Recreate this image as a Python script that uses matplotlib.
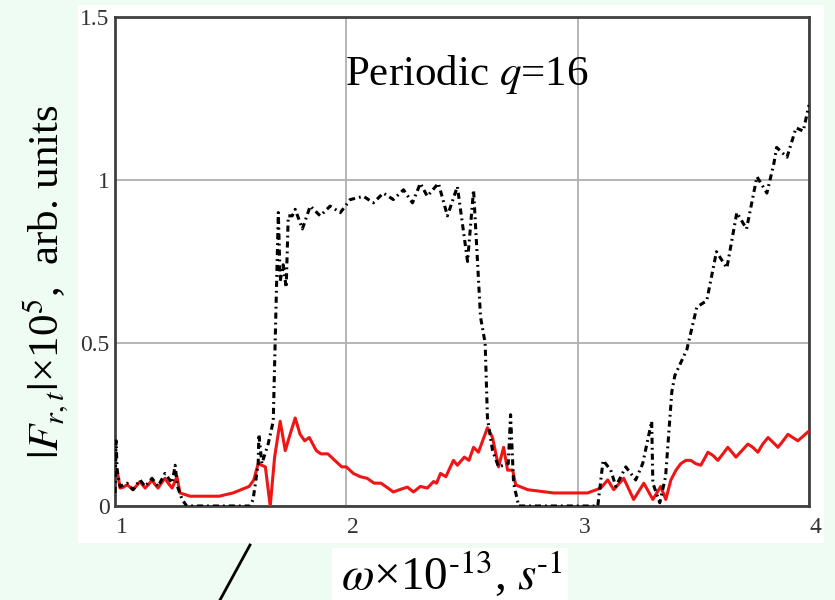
import matplotlib
matplotlib.use("Agg")
import matplotlib.pyplot as plt
import matplotlib.transforms as mtransforms
from matplotlib.patches import Rectangle
from matplotlib.lines import Line2D

plt.rcParams["font.family"] = ["Liberation Serif", "DejaVu Serif"]
plt.rcParams["mathtext.fontset"] = "stix"

# |F_t| (black dash-dot)
black_x = [1.000, 1.005, 1.009, 1.022, 1.052, 1.078, 1.108, 1.130, 1.160, 1.186,
           1.216, 1.247, 1.260, 1.270, 1.290, 1.310, 1.584, 1.597, 1.619, 1.622,
           1.635, 1.662, 1.684, 1.706, 1.714, 1.727, 1.740, 1.749, 1.766, 1.779,
           1.810, 1.844, 1.887, 1.930, 1.974, 2.017, 2.074, 2.117, 2.160, 2.203,
           2.247, 2.286, 2.320, 2.350, 2.398, 2.437, 2.480, 2.524, 2.550, 2.567,
           2.580, 2.600, 2.610, 2.632, 2.658, 2.700, 2.710, 2.723, 2.745, 3.087,
           3.110, 3.143, 3.165, 3.208, 3.251, 3.281, 3.320, 3.325, 3.355, 3.380,
           3.407, 3.420, 3.472, 3.515, 3.558, 3.600, 3.645, 3.688, 3.730, 3.775,
           3.818, 3.848, 3.860, 3.905, 3.944, 3.975, 4.000]
black_y = [0.04, 0.20, 0.11, 0.06, 0.07, 0.05, 0.08, 0.06, 0.085, 0.06,
           0.10, 0.07, 0.125, 0.06, 0.02, 0.00, 0.00, 0.02, 0.13, 0.22,
           0.13, 0.19, 0.26, 0.90, 0.69, 0.74, 0.67, 0.89, 0.89, 0.91,
           0.85, 0.92, 0.89, 0.92, 0.90, 0.94, 0.95, 0.93, 0.96, 0.94,
           0.97, 0.93, 0.99, 0.95, 0.99, 0.89, 0.98, 0.75, 0.97, 0.75,
           0.58, 0.50, 0.27, 0.17, 0.12, 0.13, 0.28, 0.07, 0.00, 0.00,
           0.14, 0.11, 0.06, 0.12, 0.08, 0.13, 0.26, 0.07, 0.01, 0.09,
           0.35, 0.40, 0.48, 0.61, 0.63, 0.78, 0.73, 0.90, 0.85, 1.01,
           0.96, 1.05, 1.10, 1.07, 1.16, 1.15, 1.23]

# |F_r| (red solid)
red_x = [1.000, 1.009, 1.022, 1.037, 1.052, 1.065, 1.078, 1.093, 1.108, 1.120,
         1.130, 1.145, 1.160, 1.173, 1.186, 1.200, 1.216, 1.232, 1.247, 1.268,
         1.281, 1.325, 1.450, 1.510, 1.580, 1.600, 1.619, 1.650, 1.671, 1.690,
         1.714, 1.736, 1.757, 1.779, 1.800, 1.820, 1.840, 1.870, 1.890, 1.920,
         1.950, 1.980, 2.000, 2.030, 2.060, 2.090, 2.120, 2.150, 2.180, 2.203,
         2.230, 2.264, 2.290, 2.320, 2.350, 2.377, 2.390, 2.407, 2.430, 2.463,
         2.480, 2.510, 2.530, 2.550, 2.571, 2.610, 2.632, 2.658, 2.680, 2.697,
         2.719, 2.732, 2.784, 2.896, 3.043, 3.100, 3.130, 3.156, 3.199, 3.242,
         3.286, 3.325, 3.359, 3.381, 3.403, 3.425, 3.446, 3.468, 3.489, 3.510,
         3.532, 3.548, 3.563, 3.585, 3.606, 3.628, 3.649, 3.667, 3.684, 3.710,
         3.736, 3.757, 3.779, 3.800, 3.823, 3.845, 3.866, 3.888, 3.909, 3.930,
         3.952, 3.976, 4.000]
red_y = [0.10, 0.11, 0.055, 0.058, 0.065, 0.058, 0.05, 0.062, 0.075, 0.064,
         0.055, 0.066, 0.08, 0.066, 0.055, 0.07, 0.085, 0.068, 0.055, 0.09,
         0.04, 0.03, 0.03, 0.04, 0.06, 0.08, 0.13, 0.12, 0.00, 0.15,
         0.26, 0.17, 0.22, 0.27, 0.22, 0.20, 0.21, 0.17, 0.16, 0.16,
         0.14, 0.12, 0.12, 0.10, 0.09, 0.085, 0.07, 0.07, 0.055, 0.043,
         0.05, 0.058, 0.043, 0.06, 0.055, 0.075, 0.07, 0.10, 0.09, 0.14,
         0.125, 0.15, 0.14, 0.18, 0.165, 0.24, 0.21, 0.12, 0.18, 0.11,
         0.11, 0.065, 0.05, 0.04, 0.04, 0.055, 0.08, 0.05, 0.085, 0.02,
         0.07, 0.02, 0.06, 0.02, 0.08, 0.11, 0.13, 0.14, 0.14, 0.13,
         0.125, 0.145, 0.165, 0.155, 0.14, 0.16, 0.18, 0.165, 0.15, 0.17,
         0.19, 0.18, 0.165, 0.19, 0.21, 0.195, 0.18, 0.20, 0.22, 0.21,
         0.20, 0.215, 0.23]

x_ticks = [1, 2, 3, 4]
x_labels = ["1", "2", "3", "4"]
y_ticks = [0, 0.5, 1, 1.5]
y_labels = ["0", "0.5", "1", "1.5"]

W, H = 835, 600
fig = plt.figure(figsize=(W / 100, H / 100), dpi=100, facecolor="#effcf3")

# white panel behind the chart and under the x label
fig.add_artist(Rectangle((78 / W, 1 - 543 / H), (824 - 78) / W, (543 - 5) / H,
                         transform=fig.transFigure, facecolor="white",
                         edgecolor="none", zorder=-1))
fig.add_artist(Rectangle((332 / W, 0), (568 - 332) / W, (600 - 548) / H,
                         transform=fig.transFigure, facecolor="white",
                         edgecolor="none", zorder=-1))
fig.add_artist(Line2D([220 / W, 250 / W], [0, 1 - 545 / H], color="black",
                      lw=2, transform=fig.transFigure))

ax = fig.add_axes([115 / W, 1 - 506 / H, (809 - 115) / W, (506 - 17) / H])
ax.plot(red_x, red_y, color="#f01515", lw=2.2, zorder=3,
        solid_joinstyle="round")
ax.plot(black_x, black_y, color="black", lw=2.2,
        linestyle=(0, (2.0, 1.3, 0.6, 1.3)), zorder=4)

ax.set_xlim(1, 4)
ax.set_ylim(0, 1.5)
ax.set_xticks(x_ticks)
ax.set_xticklabels(x_labels)
ax.set_yticks(y_ticks)
ax.set_yticklabels(y_labels)
ax.tick_params(length=0, labelsize=17, labelcolor="#333333")
ax.tick_params(axis="x", pad=8)
ax.tick_params(axis="y", pad=4)
shift = mtransforms.ScaledTranslation(1 / 100, 0, fig.dpi_scale_trans)
for lab in ax.get_xticklabels():
    lab.set_ha("left")
    lab.set_transform(lab.get_transform() + shift)

ax.grid(True, color="#b0b0b0", lw=1.3)
ax.set_axisbelow(True)
for sp in ax.spines.values():
    sp.set_color("#404040")
    sp.set_linewidth(2)

ax.text(2.52, 1.29, "Periodic $q$=16", fontsize=31, ha="center",
        va="baseline", color="black")

fig.text(452 / W, 1 - 590 / H, r"$\omega$×10$^{\text{-13}}$, $s$$^{\text{-1}}$",
         fontsize=34, ha="center", va="baseline")
fig.text(46 / W, 1 - 282 / H, r"$|F_{r,t}|$×10$^5$,  arb. units",
         fontsize=31, rotation=90, ha="center", va="center")

fig.savefig("out.png", dpi=100, facecolor=fig.get_facecolor())
